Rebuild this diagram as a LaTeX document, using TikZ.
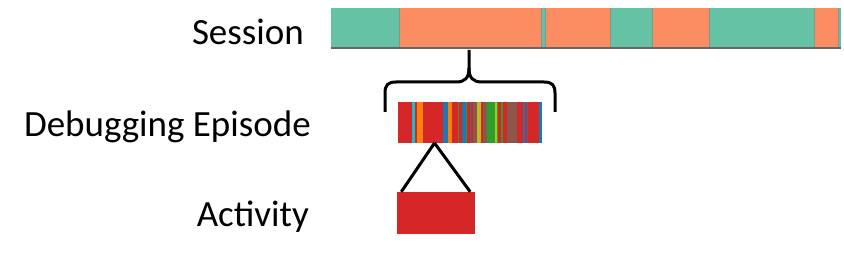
\documentclass[tikz,border=0pt]{standalone}
\usepackage{fontspec}
\setmainfont{Carlito}
\definecolor{sTeal}{HTML}{66C2A5}
\definecolor{sOrange}{HTML}{FC8D62}
\definecolor{sDiv}{HTML}{7A9A8C}
\definecolor{tRed}{HTML}{D62728}
\definecolor{tBlue}{HTML}{1F77B4}
\definecolor{tOrange}{HTML}{FF7F0E}
\definecolor{tGreen}{HTML}{2CA02C}
\definecolor{tBrown}{HTML}{8C564B}
\definecolor{tOlive}{HTML}{BCBD22}
\definecolor{tCyan}{HTML}{17BECF}
\begin{document}
\begin{tikzpicture}[x=1pt,y=-1pt,
  lbl/.style={anchor=base east,inner sep=0pt,font=\fontsize{37}{41}\selectfont},
  blk/.style={draw=black,line width=3pt},
  barbox/.style={rectangle,inner sep=0pt,outer sep=0pt,draw=none}]
\useasboundingbox (0,0) rectangle (844,259);
% labels
\node[lbl] (ls) at (304,45) {Session};
\node[lbl] (ld) at (311,136.5) {Debugging Episode};
\node[lbl] (la) at (309,226.5) {Activity};
% session bar
\node[barbox,minimum width=510pt,minimum height=40pt] (sess) at (586,28) {};
\foreach \a/\b/\c in {331/399/sTeal,399/541.7/sOrange,541.7/545.7/sTeal,545.7/610.3/sOrange,610.3/652.3/sTeal,652.3/709.3/sOrange,709.3/814.7/sTeal,814.7/838.7/sOrange,838.7/841/sTeal}
  \fill[\c] (\a,8) rectangle (\b,48);
\foreach \a in {399,541.7,545.7,610.3,652.3,709.3,814.7,838.7}
  \draw[sDiv,line width=0.8pt] (\a,8) -- (\a,48);
\draw[black!60,line width=2pt] (sess.south west) -- (sess.south east);
% episode bar
\node[barbox,minimum width=143.7pt,minimum height=41pt] (ep) at (469.85,122.5) {};
\foreach \a/\b/\c in {398/412/tRed,412/415.3/tCyan,415.3/417/tRed,417/423/tOrange,423/442.7/tRed,442.7/447.5/tBlue,447.5/448.3/tRed,448.3/451.5/tOrange,451.5/457.5/tRed,457.5/459.3/tGreen,459.3/461.5/tRed,461.5/465.7/tBlue,465.7/467/tGreen,467/469.5/tRed,469.5/471/tBlue,471/472.7/tRed,472.7/477.3/tBrown,477.3/481/tOlive,481/483.3/tRed,483.3/486.7/tBrown,486.7/495/tGreen,495/496.7/tOlive,496.7/498.3/tGreen,498.3/501/tRed,501/502.7/tGreen,502.7/507/tRed,507/517.3/tBrown,517.3/523.3/tRed,523.3/525/tBlue,525/526.7/tRed,526.7/528.3/tBlue,528.3/539.3/tRed,539.3/541.7/tBlue}
  \fill[\c] (\a,102) rectangle (\b,143);
% brace
\coordinate (btip) at (469,50);
\draw[blk,line cap=butt,line join=round] (385,112) -- (385,93) .. controls (385,85) and (388,82) .. (396,82) -- (456,82) .. controls (465,82) and (469,78) .. (469,68) -- (btip);
\draw[blk,line cap=butt,line join=round] (555,112) -- (555,93) .. controls (555,85) and (552,82) .. (544,82) -- (482,82) .. controls (473,82) and (469,78) .. (469,68);
% activity
\node[rectangle,fill=tRed,inner sep=0pt,minimum width=78pt,minimum height=42pt] (act) at (436,213) {};
\coordinate (apex) at (434.5,143);
\draw[blk] (apex) -- ([xshift=4.5pt]act.north west);
\draw[blk] (apex) -- ([xshift=-5pt]act.north east);
\end{tikzpicture}
\end{document}
